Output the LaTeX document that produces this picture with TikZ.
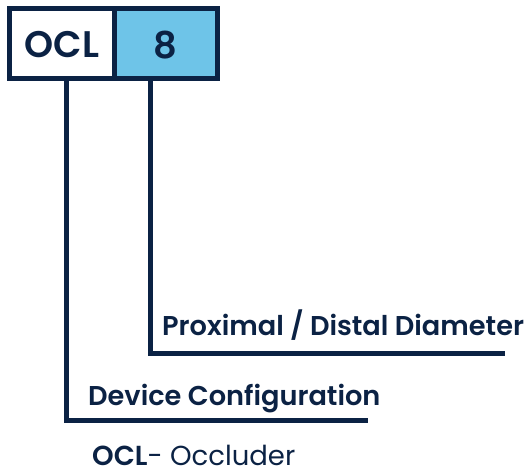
\documentclass[tikz,border=0pt]{standalone}
\usepackage{fontspec}
\setmainfont{Poppins}[BoldFont={Poppins SemiBold}]
\definecolor{navy}{HTML}{0B2244}
\definecolor{skyfill}{HTML}{6EC4E8}
\begin{document}
\begin{tikzpicture}[x=1pt,y=-1pt,
  line/.style={draw=navy,line width=5pt},
  lbl/.style={anchor=base west,inner sep=0pt,text=navy,font=\fontsize{27.2}{27}\selectfont\bfseries},
  boxtxt/.style={anchor=center,inner sep=0pt,text=navy,font=\fontsize{37}{37}\selectfont\bfseries}]
\useasboundingbox (0,0) rectangle (530,474);
\fill[white] (0,0) rectangle (530,474);
% boxes
\path[fill=white] (9.5,8.5) rectangle (114,78.5);
\path[fill=skyfill] (114,8.5) rectangle (217.5,78.5);
\draw[line] (9.5,8.5) rectangle (217.5,78.5);
\draw[line] (114,8.5) -- (114,78.5);
\node[boxtxt] (ocl) at (62,45) {OCL};
\node[boxtxt] (eight) at (165,45) {8};
\coordinate (t1) at (66,78.5);
\coordinate (t2) at (150,78.5);
\coordinate (c1) at (66,420.5);
\coordinate (c2) at (150,353);
\coordinate (e1) at (368,420.5);
\coordinate (e2) at (505,353);
\draw[line] (t1) -- (c1) -- (e1);
\draw[line] (t2) -- (c2) -- (e2);
\node[lbl] (prox) at (162,335) {Proximal / Distal Diameter};
\node[lbl] (dev) at (88,405) {Device Configuration};
\node[anchor=base west,inner sep=0pt,text=navy,font=\fontsize{27.5}{28}\selectfont] (occ) at (92,465) {\textbf{OCL}- Occluder};
\end{tikzpicture}
\end{document}
